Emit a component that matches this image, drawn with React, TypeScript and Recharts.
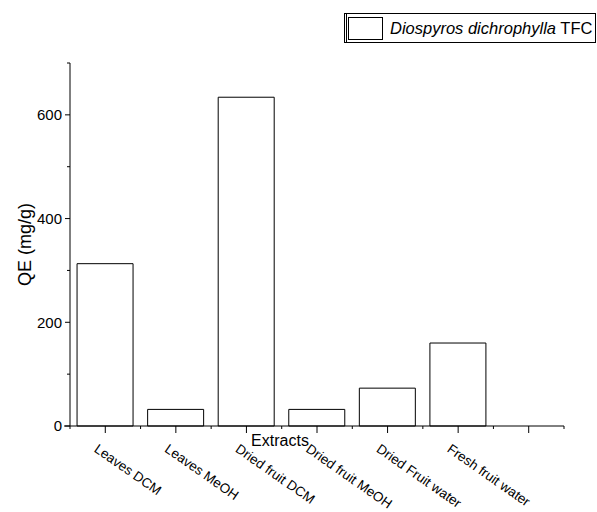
import React from 'react';
import { BarChart, Bar, XAxis, YAxis, Legend } from 'recharts';

const categories = [
  'Leaves DCM',
  'Leaves MeOH',
  'Dried fruit DCM',
  'Dried fruit MeOH',
  'Dried Fruit water',
  'Fresh fruit water',
  '',
];
const tfcValues = [313, 32, 634, 32, 73, 160, null];
const yTicks = [0, 100, 200, 300, 400, 500, 600, 700];
const yLabelTicks = [0, 200, 400, 600];
const speciesName = 'Diospyros dichrophylla';
const seriesSuffix = 'TFC';

const data = categories.map((name, i) => ({ name, tfc: tfcValues[i] }));

const FONT = '"Liberation Sans", Arial, sans-serif';
const W = 597;
const H = 512;
const margin = { top: 63, right: 33, left: 20, bottom: 56 };
const Y_AXIS_W = 50;
const X_AXIS_H = 30;
const plotW = W - margin.left - margin.right - Y_AXIS_W;
const band = plotW / categories.length;

const YTick = (props: any) => {
  const { x, y, payload } = props;
  const major = yLabelTicks.includes(payload.value);
  return (
    <g>
      <line x1={x - (major ? 5 : 3)} x2={x} y1={y} y2={y} stroke="#000" />
      {major && (
        <text x={x - 8} y={y} dy="0.35em" textAnchor="end" fontSize={15} fontFamily={FONT} fill="#000">
          {payload.value}
        </text>
      )}
    </g>
  );
};

const XTick = (props: any) => {
  const { x, y, payload, index } = props;
  const last = index === categories.length - 1;
  const left = x - band / 2;
  return (
    <g>
      {index === 0 && <line x1={left - 6} x2={left} y1={y} y2={y} stroke="#000" />}
      <line x1={x} x2={x} y1={y} y2={y + 7} stroke="#000" />
      <line x1={left} x2={left} y1={y} y2={y + 3} stroke="#000" />
      {last && <line x1={x + band / 2} x2={x + band / 2} y1={y} y2={y + 3} stroke="#000" />}
      <text
        transform={`translate(${x - 12},${y + 25}) rotate(35)`}
        textAnchor="start"
        fontSize={13.5}
        fontFamily={FONT}
        fill="#000"
      >
        {payload.value}
      </text>
    </g>
  );
};

const renderLegend = () => (
  <div
    style={{
      boxSizing: 'border-box',
      width: 252,
      height: 30,
      border: '1px solid #000',
      borderLeft: '3px double #000',
      display: 'flex',
      alignItems: 'center',
      fontFamily: FONT,
      fontSize: 16.5,
      color: '#000',
      whiteSpace: 'nowrap',
    }}
  >
    <div
      style={{
        boxSizing: 'border-box',
        width: 35,
        height: 23,
        border: '1px solid #000',
        background: '#fff',
        marginLeft: 1,
        marginRight: 7,
      }}
    />
    <span>
      <i>{speciesName}</i> {seriesSuffix}
    </span>
  </div>
);

export default function App() {
  return (
    <div style={{ position: 'absolute', left: 0, top: 0, width: W, height: H, background: '#fff' }}>
      <BarChart width={W} height={H} data={data} margin={margin} barCategoryGap="10%">
        <XAxis
          dataKey="name"
          height={X_AXIS_H}
          interval={0}
          tickLine={false}
          tickSize={0}
          tickMargin={0}
          axisLine={{ stroke: '#000' }}
          tick={<XTick />}
          label={{
            value: 'Extracts',
            position: 'insideTop',
            offset: 9,
            dx: -37,
            style: { fontSize: 16, fontFamily: FONT, fill: '#000' },
          }}
        />
        <YAxis
          width={Y_AXIS_W}
          domain={[0, 700]}
          ticks={yTicks}
          interval={0}
          tickLine={false}
          tickSize={0}
          tickMargin={0}
          axisLine={{ stroke: '#000' }}
          tick={<YTick />}
          label={{
            value: 'QE  (mg/g)',
            angle: -90,
            position: 'insideLeft',
            offset: 5,
            style: { textAnchor: 'middle', fontSize: 18, fontFamily: FONT, fill: '#000' },
          }}
        />
        <Legend
          layout="vertical"
          verticalAlign="middle"
          align="center"
          wrapperStyle={{ top: 13, left: 344, width: 252 }}
          content={renderLegend}
        />
        <Bar
          dataKey="tfc"
          name={`${speciesName} ${seriesSuffix}`}
          fill="#fff"
          stroke="#000"
          strokeWidth={1}
          isAnimationActive={false}
        />
      </BarChart>
    </div>
  );
}
